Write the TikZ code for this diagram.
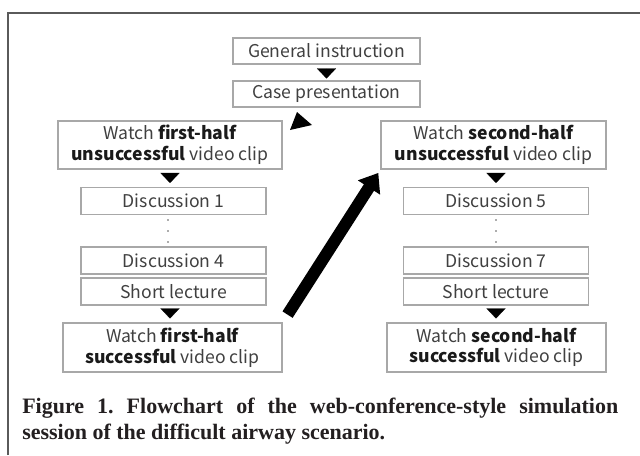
\documentclass[tikz,border=0pt]{standalone}
\usepackage{fontspec}
\setmainfont{Liberation Serif}
\newfontfamily\boxfont{Noto Sans CJK JP}
\usetikzlibrary{arrows.meta,calc}
\definecolor{bg}{HTML}{FFFFFF}
\definecolor{frame}{HTML}{5A5A5A}
\definecolor{boxedge}{HTML}{A8A8A8}
\definecolor{boxtext}{HTML}{404040}
\definecolor{strong}{HTML}{1A1A1A}
\definecolor{caption}{HTML}{231F20}
\newcommand{\hl}[1]{{\bfseries\color{strong}#1}}

\begin{document}
\begin{tikzpicture}[x=0.75pt,y=-0.75pt,line cap=butt,line join=miter,
  stepbox/.style={draw=boxedge,line width=0.8pt,fill=bg,inner sep=0pt,
    font=\boxfont\fontsize{13.2}{15.5}\selectfont,text=boxtext,align=center},
  tri/.style={-{Triangle[length=7.5pt,width=14.25pt]},line width=0.1pt,black},
  bigarrow/.style={-{Triangle[length=13pt,width=19pt]},line width=9pt,black}]
  \useasboundingbox (0,0) rectangle (640,455);
  \fill[bg] (0,0) rectangle (640,455);
  % ---- frame (open to the right and below) ----
  \draw[frame,line width=0.8pt] (8,455) -- (8,13) -- (640,13);

  % ---- top ----
  \node[stepbox,minimum width=140.25pt,minimum height=19.5pt] (gen) at (326.5,51) {General instruction};
  \node[stepbox,minimum width=140.25pt,minimum height=19.5pt] (case) at (326.5,94) {Case presentation};
  \draw[tri,shorten <=3pt,shorten >=1.5pt] (gen) -- (case);
  \fill[black] (297,112) -- (290,130) -- (312,125) -- cycle;

  % ---- first half (left column) ----
  \node[stepbox,minimum width=168pt,minimum height=36pt] (unA) at (170,145) {Watch \hl{first-half}\\\hl{unsuccessful} video clip};
  \node[stepbox,minimum width=138.75pt,minimum height=20.25pt] (dA1) at (173.5,201) {Discussion 1};
  \node[stepbox,minimum width=138.75pt,minimum height=20.25pt] (dA4) at (173.5,260.5) {Discussion 4};
  \node[stepbox,minimum width=138.75pt,minimum height=20.25pt] (lecA) at (173.5,291.5) {Short lecture};
  \node[stepbox,minimum width=164.25pt,minimum height=36.75pt] (sucA) at (172.5,347.5) {Watch \hl{first-half}\\\hl{successful} video clip};
  \draw[tri,shorten <=3pt,shorten >=3pt] (unA.south) -- (unA.south |- dA1.north);
  \draw[tri,shorten <=3pt,shorten >=3pt] (lecA.south -| unA.south) -- (unA.south |- sucA.north);
  \foreach \yy in {220,231,242} \fill[frame] (168,\yy) circle (0.8);

  % ---- second half (right column) ----
  \node[stepbox,minimum width=168.75pt,minimum height=36pt] (unB) at (493.5,145) {Watch \hl{second-half}\\\hl{unsuccessful} video clip};
  \node[stepbox,minimum width=138.75pt,minimum height=20.25pt] (dB5) at (496,201) {Discussion 5};
  \node[stepbox,minimum width=138.75pt,minimum height=20.25pt] (dB7) at (496,260.5) {Discussion 7};
  \node[stepbox,minimum width=138.75pt,minimum height=20.25pt] (lecB) at (496,291.5) {Short lecture};
  \node[stepbox,minimum width=164.25pt,minimum height=36.75pt] (sucB) at (496.5,347.5) {Watch \hl{second-half}\\\hl{successful} video clip};
  \draw[tri,shorten <=3pt,shorten >=3pt] (dB5.north |- unB.south) -- (dB5.north);
  \draw[tri,shorten <=3pt,shorten >=3pt] (lecB.south) -- (lecB.south |- sucB.north);
  \foreach \yy in {220,231,242} \fill[frame] (496,\yy) circle (0.8);

  % ---- switch to the second half ----
  \draw[bigarrow,shorten <=7pt,shorten >=3pt] (sucA.north east) -- (unB.south west);

  % ---- caption ----
  \node[anchor=north west,inner sep=0pt,text=caption] (cap) at (22,398) {\parbox{447pt}{\fontsize{16.5}{19.5}\selectfont\bfseries\frenchspacing
    Figure 1. Flowchart of the web-conference-style simulation\linebreak
    session of the difficult airway scenario.}};
\end{tikzpicture}
\end{document}
